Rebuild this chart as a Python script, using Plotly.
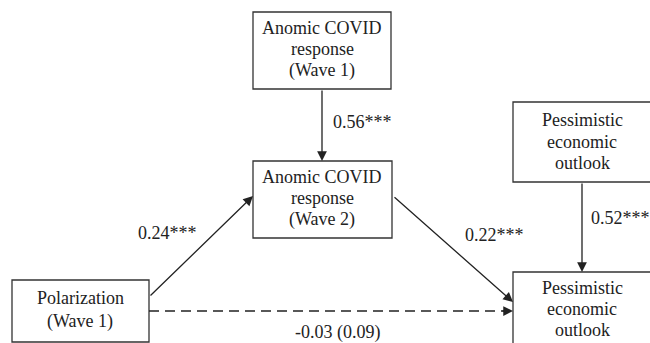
import plotly.graph_objects as go

# ---- data ----
node_names = ["anomic_w1", "anomic_w2", "polar_w1", "pess_cov", "pess_out"]
node_lines = [
    ["Anomic COVID", "response", "(Wave 1)"],
    ["Anomic COVID", "response", "(Wave 2)"],
    ["Polarization", "(Wave 1)"],
    ["Pessimistic", "economic", "outlook"],
    ["Pessimistic", "economic", "outlook"],
]
path_from = ["anomic_w1", "polar_w1", "anomic_w2", "pess_cov", "polar_w1"]
path_to = ["anomic_w2", "anomic_w2", "pess_out", "pess_out", "pess_out"]
path_coef = [0.56, 0.24, 0.22, 0.52, -0.03]
path_sig = ["***", "***", "***", "***", ""]
path_se = [None, None, None, None, 0.09]
path_dashed = [False, False, False, False, True]

# ---- layout (pixel coordinates) ----
boxes = {
    "anomic_w1": (253, 12, 391, 89),
    "anomic_w2": (253, 161, 392, 238),
    "polar_w1": (12, 280, 149, 342),
    "pess_cov": (513, 102, 660, 182),
    "pess_out": (513, 272, 660, 360),
}
line_y = {
    "anomic_w1": [28, 49, 70],
    "anomic_w2": [177, 198, 219],
    "polar_w1": [298, 321],
    "pess_cov": [120, 142, 163],
    "pess_out": [288, 309, 330],
}
box_cx = {"anomic_w1": 322, "anomic_w2": 322, "polar_w1": 80, "pess_cov": 582, "pess_out": 582}
arrows = [
    ((322, 89), (322, 161)),
    ((149, 297), (253, 196)),
    ((393, 196), (513, 302)),
    ((582, 182), (582, 272)),
    ((149, 311), (513, 311)),
]
label_pos = [(362, 122, "center"), (167, 233, "center"), (494, 235, "center"), (620, 218, "center"), (337, 332, "center")]

FONT = "Liberation Serif, Times New Roman, serif"
INK = "#222222"

fig = go.Figure()
fig.add_trace(go.Scatter(x=[0, 650], y=[0, 343], mode="markers", marker=dict(opacity=0), hoverinfo="skip", showlegend=False))

shapes = []
annotations = []
for name, lines in zip(node_names, node_lines):
    x0, y0, x1, y1 = boxes[name]
    shapes.append(dict(type="rect", xref="x", yref="y", x0=x0, y0=y0, x1=x1, y1=y1,
                       line=dict(color="#333333", width=1.3), fillcolor="white", layer="below"))
    for ln, yy in zip(lines, line_y[name]):
        annotations.append(dict(x=box_cx[name], y=yy, xref="x", yref="y", text=ln, showarrow=False,
                                font=dict(family=FONT, size=18, color=INK), xanchor="center", yanchor="middle"))

for i in range(len(path_from)):
    (sx, sy), (tx, ty) = arrows[i]
    if path_dashed[i]:
        shapes.append(dict(type="line", xref="x", yref="y", x0=sx, y0=sy, x1=tx - 4, y1=ty,
                           line=dict(color=INK, width=1.5, dash="10px,6px")))
        annotations.append(dict(x=tx, y=ty, ax=tx - 12, ay=ty, xref="x", yref="y", axref="x", ayref="y",
                                text="", showarrow=True, arrowhead=2, arrowsize=1.5, arrowwidth=1.3,
                                arrowcolor=INK))
    else:
        annotations.append(dict(x=tx, y=ty, ax=sx, ay=sy, xref="x", yref="y", axref="x", ayref="y",
                                text="", showarrow=True, arrowhead=2, arrowsize=1.5, arrowwidth=1.3,
                                arrowcolor=INK))
    lab = f"{path_coef[i]:.2f}{path_sig[i]}"
    if path_se[i] is not None:
        lab += f" ({path_se[i]:.2f})"
    lx, ly, anc = label_pos[i]
    annotations.append(dict(x=lx, y=ly, xref="x", yref="y", text=lab, showarrow=False,
                            font=dict(family=FONT, size=18, color=INK), xanchor=anc, yanchor="middle"))

fig.update_layout(
    width=650, height=343, autosize=False,
    margin=dict(l=0, r=0, t=0, b=0),
    paper_bgcolor="white", plot_bgcolor="white",
    xaxis=dict(range=[0, 650], visible=False, fixedrange=True),
    yaxis=dict(range=[343, 0], visible=False, fixedrange=True),
    shapes=shapes, annotations=annotations, showlegend=False,
)
fig.write_html("out.html", config={"displayModeBar": False},
               post_script="document.body.style.margin='0';document.body.style.overflow='hidden';")
